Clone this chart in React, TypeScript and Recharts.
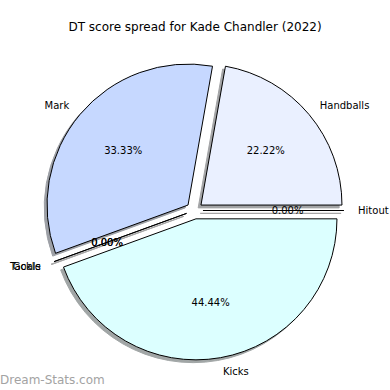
import React from "react";
import { PieChart, Pie, Cell } from "recharts";

// DT score share by stat (percent of total).
const categories = ["Handballs", "Mark", "Tackle", "Goals", "Kicks", "Hitout"];
const shares = [22.22, 33.33, 0, 0, 44.44, 0];
const fills = ["#eaf0ff", "#c6d8ff", "#ffffff", "#ffffff", "#dcffff", "#ffffff"];

const data = categories.map((name, i) => ({ name, value: shares[i] }));

const W = 390;
const H = 390;
const CX = 194.5;
const CY = 210.5;
const R = 141;
const EXPLODE = 0.06; // fraction of radius, every wedge pulled out
const SHADOW = 0.02; // matplotlib-style drop shadow offset
const FONT = "'DejaVu Sans', sans-serif";

const total = shares.reduce((a, b) => a + b, 0);
// mid angle of each wedge (degrees, counter-clockwise from 3 o'clock)
const midAngles = (() => {
  let acc = 0;
  return shares.map((v) => {
    const start = acc;
    acc += (v / total) * 360;
    return (start + acc) / 2;
  });
})();

const rad = Math.PI / 180;

function shadowTint(hex: string) {
  const n = parseInt(hex.slice(1), 16);
  const c = [(n >> 16) & 255, (n >> 8) & 255, n & 255].map((v) =>
    Math.round(255 * 0.5 + v * 0.3 * 0.5)
  );
  return `rgb(${c[0]},${c[1]},${c[2]})`;
}

const faceLabel = (slice: number) => (p: any) => {
  if (p.index !== slice) return null;
  const a = p.midAngle * rad;
  const cos = Math.cos(a);
  const sin = Math.sin(a);
  const lx = p.cx + p.outerRadius * 1.1 * cos;
  const ly = p.cy - p.outerRadius * 1.1 * sin;
  const tx = p.cx + p.outerRadius * 0.6 * cos;
  const ty = p.cy - p.outerRadius * 0.6 * sin;
  return (
    <g>
      {p.value === 0 && (
        <line
          x1={p.cx}
          y1={p.cy}
          x2={p.cx + p.outerRadius * cos}
          y2={p.cy - p.outerRadius * sin}
          stroke="#000"
          strokeWidth={1}
        />
      )}
      <text
        x={lx}
        y={ly}
        textAnchor={cos >= 0 ? "start" : "end"}
        dominantBaseline="central"
        fontFamily={FONT}
        fontSize={10}
        fill="#000"
      >
        {p.name}
      </text>
      <text
        x={tx}
        y={ty}
        textAnchor="middle"
        dominantBaseline="central"
        fontFamily={FONT}
        fontSize={10}
        fill="#000"
      >
        {(p.percent * 100).toFixed(2)}%
      </text>
    </g>
  );
};

const shadowLabel = (slice: number) => (p: any) => {
  if (p.index !== slice || p.value !== 0) return null;
  const a = p.midAngle * rad;
  return (
    <line
      x1={p.cx}
      y1={p.cy}
      x2={p.cx + p.outerRadius * Math.cos(a)}
      y2={p.cy - p.outerRadius * Math.sin(a)}
      stroke="#a6a6a6"
      strokeWidth={1.2}
    />
  );
};

export default function App() {
  const off = EXPLODE * R;
  const sh = SHADOW * R;
  return (
    <div style={{ position: "absolute", left: 0, top: 0, width: W, height: H, background: "#fff" }}>
      <div
        style={{
          position: "absolute",
          left: 0,
          top: 19,
          width: W,
          textAlign: "center",
          fontFamily: FONT,
          fontSize: 12,
          lineHeight: "16px",
          color: "#000",
        }}
      >
        DT score spread for Kade Chandler (2022)
      </div>
      <PieChart width={W} height={H} margin={{ top: 0, right: 0, bottom: 0, left: 0 }}>
        {data.map((_, i) => (
          <Pie
            key={`s${i}`}
            data={data}
            dataKey="value"
            nameKey="name"
            cx={CX + off * Math.cos(midAngles[i] * rad) - sh}
            cy={CY - off * Math.sin(midAngles[i] * rad) + sh}
            outerRadius={R}
            startAngle={0}
            endAngle={360}
            label={shadowLabel(i)}
            labelLine={false}
            isAnimationActive={false}
          >
            {data.map((__, j) => (
              <Cell
                key={j}
                fill={j === i ? shadowTint(fills[j]) : "none"}
                stroke={j === i ? shadowTint(fills[j]) : "none"}
              />
            ))}
          </Pie>
        ))}
        {data.map((_, i) => (
          <Pie
            key={`f${i}`}
            data={data}
            dataKey="value"
            nameKey="name"
            cx={CX + off * Math.cos(midAngles[i] * rad)}
            cy={CY - off * Math.sin(midAngles[i] * rad)}
            outerRadius={R}
            startAngle={0}
            endAngle={360}
            label={faceLabel(i)}
            labelLine={false}
            isAnimationActive={false}
          >
            {data.map((__, j) => (
              <Cell
                key={j}
                fill={j === i ? fills[j] : "none"}
                stroke={j === i ? "#000" : "none"}
                strokeWidth={1}
              />
            ))}
          </Pie>
        ))}
      </PieChart>
      <div
        style={{
          position: "absolute",
          left: 0,
          top: 372,
          fontFamily: FONT,
          fontSize: 12,
          lineHeight: "16px",
          color: "#a3a3a3",
        }}
      >
        Dream-Stats.com
      </div>
    </div>
  );
}
